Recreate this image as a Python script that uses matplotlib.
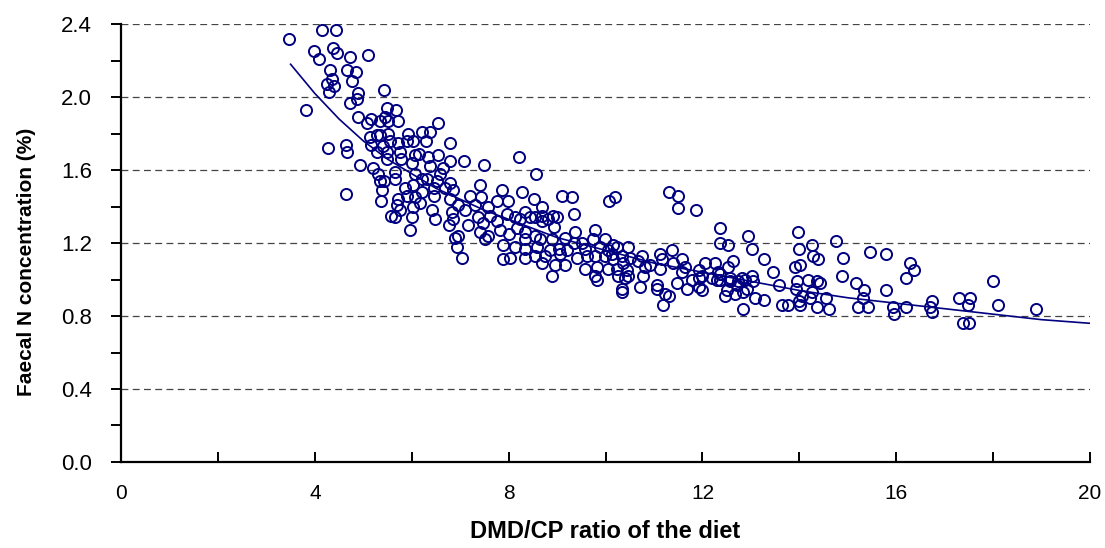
import matplotlib.pyplot as plt
from matplotlib.ticker import MultipleLocator

# scatter data: DMD/CP ratio vs faecal N (%)
dmd_cp = [
    3.47, 4.14, 4.43, 3.98, 4.38, 4.46, 4.09, 4.73, 5.09, 4.31, 4.67, 4.84, 4.35, 4.76, 4.26, 4.40,
    4.30, 5.42, 4.89, 4.88, 4.73, 3.81, 5.50, 5.68, 4.89, 5.07, 5.16, 5.35, 5.45, 5.52, 5.72,
    5.14, 5.28, 5.35, 5.52, 4.27, 4.64, 4.67, 5.16, 5.55, 5.41, 5.28, 5.50, 5.72, 5.76, 5.50, 5.78,
    4.93, 5.21, 5.30, 5.66, 5.35, 5.43, 5.66, 4.64, 5.38, 5.37, 5.72, 5.69, 5.76, 5.57, 5.66,
    6.54, 5.93, 6.21, 6.38, 5.91, 6.02, 6.30, 6.79, 6.14, 6.07, 6.34, 6.54, 6.79, 7.07, 7.49, 6.00,
    6.38, 6.64, 6.07, 6.58,
    6.21, 6.31, 6.79, 6.52, 5.86, 6.03, 6.21, 6.45, 6.69, 6.86, 7.40, 7.86, 5.90, 6.07, 6.45, 6.79,
    7.20, 7.44, 6.03, 6.17, 6.41, 6.83, 6.96, 7.10, 7.31, 7.58, 7.75, 6.00, 6.48, 6.76, 6.86, 7.17,
    7.37, 7.48, 7.62, 7.75, 5.96, 7.41, 7.58, 7.82, 6.96, 6.89, 7.51, 6.94, 7.89, 7.03, 7.89,
    8.22, 8.56, 8.27, 7.99, 8.52, 9.10, 9.30, 10.08, 10.20, 8.68, 9.34, 7.96, 8.13, 8.34, 8.54, 8.68,
    8.92, 8.99, 8.82,
    8.24, 8.44, 8.68, 8.94, 8.17, 8.00, 8.34, 8.54, 9.37, 9.78, 8.13, 8.34, 8.65, 8.89, 9.16, 9.34,
    9.51, 9.75, 9.99, 10.16, 8.34, 8.58, 8.85, 9.03, 9.20, 9.58, 9.89, 10.06, 8.03, 8.34, 8.54, 8.75,
    9.06, 9.41, 9.61, 9.78, 9.99, 8.68, 8.96, 9.16, 9.58, 9.82, 10.06, 9.78, 8.89, 9.82,
    11.32, 11.50, 11.49, 11.87, 11.37,
    10.23, 10.47, 10.13, 10.33, 10.51, 10.75, 11.12, 11.57, 10.16, 10.37, 10.68, 10.82, 10.92, 11.12,
    11.16, 11.40, 11.64, 11.92, 12.05, 12.26, 10.23, 10.44, 10.47, 10.40, 10.26, 11.57, 10.78, 11.78,
    11.92, 11.99, 12.19, 12.30, 12.33, 11.47, 10.33, 10.33, 10.71, 11.06, 11.68, 11.92, 11.99, 11.06,
    11.23, 11.30, 11.19,
    12.36, 12.95, 13.97, 12.53, 12.36, 13.02, 14.26, 14.75, 14.00, 15.45, 14.29, 14.38, 13.26, 14.91,
    12.64, 12.53, 13.91, 14.01, 13.46, 14.88, 12.36, 12.57, 12.81, 13.02, 13.05, 12.36, 12.57, 12.74,
    12.88, 13.96, 14.17, 14.36, 14.43, 13.57, 15.16, 12.71, 12.91, 13.93, 12.50, 12.67, 12.84, 14.26,
    15.34, 12.47, 13.09, 13.26, 14.05, 14.21, 14.55, 15.32, 14.00, 14.01, 13.64, 13.77, 14.37, 14.62,
    12.84, 15.21, 15.42,
    15.78, 16.29, 16.37, 16.20, 18.00, 15.78, 15.94, 15.96, 16.20, 16.73, 16.70, 16.73, 17.30, 17.52,
    17.48, 18.09, 17.37, 17.51, 18.89,
]
faecal_n = [
    2.32, 2.37, 2.37, 2.25, 2.27, 2.24, 2.21, 2.22, 2.23, 2.15, 2.15, 2.14, 2.10, 2.09, 2.07, 2.06,
    2.03, 2.04, 2.02, 1.99, 1.97, 1.93, 1.94, 1.93, 1.89, 1.86, 1.88, 1.87, 1.89, 1.87, 1.87,
    1.78, 1.79, 1.79, 1.80, 1.72, 1.74, 1.70, 1.74, 1.76, 1.73, 1.70, 1.70, 1.75, 1.70, 1.66, 1.66,
    1.63, 1.61, 1.58, 1.59, 1.54, 1.54, 1.55, 1.47, 1.49, 1.43, 1.44, 1.41, 1.38, 1.35, 1.34,
    1.86, 1.80, 1.81, 1.81, 1.76, 1.76, 1.76, 1.75, 1.69, 1.68, 1.67, 1.68, 1.65, 1.65, 1.63, 1.64,
    1.62, 1.61, 1.58, 1.58,
    1.55, 1.55, 1.53, 1.54, 1.50, 1.52, 1.48, 1.50, 1.50, 1.49, 1.52, 1.49, 1.46, 1.45, 1.46, 1.44,
    1.46, 1.45, 1.40, 1.42, 1.38, 1.37, 1.41, 1.38, 1.41, 1.40, 1.43, 1.34, 1.33, 1.30, 1.33, 1.30,
    1.34, 1.31, 1.35, 1.32, 1.27, 1.26, 1.24, 1.27, 1.24, 1.23, 1.22, 1.18, 1.19, 1.12, 1.11,
    1.67, 1.58, 1.48, 1.43, 1.44, 1.46, 1.45, 1.43, 1.45, 1.40, 1.36, 1.36, 1.34, 1.37, 1.34, 1.35,
    1.35, 1.34, 1.33,
    1.33, 1.34, 1.32, 1.29, 1.28, 1.25, 1.26, 1.24, 1.26, 1.27, 1.18, 1.22, 1.22, 1.22, 1.23, 1.20,
    1.20, 1.22, 1.22, 1.19, 1.17, 1.18, 1.16, 1.17, 1.16, 1.17, 1.18, 1.16, 1.12, 1.12, 1.13, 1.13,
    1.14, 1.12, 1.13, 1.13, 1.13, 1.09, 1.08, 1.08, 1.06, 1.07, 1.06, 1.02, 1.02, 1.00,
    1.48, 1.46, 1.39, 1.38, 1.16,
    1.18, 1.18, 1.14, 1.13, 1.12, 1.13, 1.14, 1.11, 1.11, 1.09, 1.10, 1.07, 1.08, 1.06,
    1.11, 1.09, 1.07, 1.05, 1.09, 1.09, 1.06, 1.05, 1.02, 1.01, 1.02, 1.04, 1.02, 1.00,
    1.01, 1.02, 1.01, 1.00, 1.04, 0.98, 0.95, 0.93, 0.96, 0.95, 0.95, 0.96, 0.94, 0.97,
    0.92, 0.91, 0.86,
    1.28, 1.24, 1.26, 1.19, 1.20, 1.17, 1.19, 1.21, 1.17, 1.15, 1.13, 1.11, 1.11, 1.12,
    1.10, 1.07, 1.07, 1.08, 1.04, 1.02, 1.03, 1.01, 1.01, 1.02, 0.99, 1.00, 0.99, 0.99,
    1.00, 0.99, 1.00, 0.99, 0.98, 0.97, 0.98, 0.97, 0.95, 0.95, 0.94, 0.92, 0.93, 0.93,
    0.94, 0.91, 0.90, 0.89, 0.91, 0.90, 0.90, 0.90, 0.88, 0.86, 0.86, 0.86, 0.85, 0.84,
    0.84, 0.85, 0.85,
    1.14, 1.09, 1.05, 1.01, 0.99, 0.94, 0.85, 0.81, 0.85, 0.88, 0.85, 0.82, 0.90, 0.90,
    0.86, 0.86, 0.76, 0.76, 0.84,
]

# fitted curve as drawn in the chart
fit_x = [3.5, 4, 4.5, 5, 5.5, 6, 6.5, 7, 7.5, 8, 9, 10, 11, 12, 13, 14, 15, 16, 17, 18, 19, 20]
fit_y = [2.18, 2.02, 1.88, 1.76, 1.66, 1.58, 1.50, 1.44, 1.38, 1.33, 1.23, 1.16, 1.09, 1.04,
         0.99, 0.94, 0.90, 0.87, 0.84, 0.81, 0.78, 0.76]

navy = "#000080"

fig = plt.figure(figsize=(11.05, 5.48), dpi=100)
ax = fig.add_axes([0.1095, 0.157, 0.877, 0.799])

ax.plot(dmd_cp, faecal_n, linestyle="none", marker="o", markersize=8,
        markerfacecolor="none", markeredgecolor=navy, markeredgewidth=1.4, zorder=3)
ax.plot(fit_x, fit_y, color=navy, linewidth=1.2, zorder=4)

ax.set_xlim(0, 20)
ax.set_ylim(0, 2.4)
ax.xaxis.set_major_locator(MultipleLocator(4))
ax.xaxis.set_minor_locator(MultipleLocator(2))
ax.yaxis.set_major_locator(MultipleLocator(0.4))
ax.yaxis.set_minor_locator(MultipleLocator(0.2))
ax.set_yticklabels([f"{v:.1f}" for v in ax.get_yticks()])

ax.grid(True, axis="y", which="major", color="#444444", linestyle=(0, (5.5, 3.5)), linewidth=0.9)
ax.set_axisbelow(True)

for side in ["top", "right"]:
    ax.spines[side].set_visible(False)
for side in ["left", "bottom"]:
    ax.spines[side].set_linewidth(1.6)

ax.tick_params(axis="x", which="both", direction="in", length=7, width=1.4, pad=16,
               labelsize=15)
ax.tick_params(axis="y", which="both", direction="out", length=7, width=1.4, pad=14,
               labelsize=16)
for lbl in ax.get_xticklabels() + ax.get_yticklabels():
    lbl.set_family("Liberation Sans")

ax.set_xlabel("DMD/CP ratio of the diet", fontsize=17, fontweight="bold",
              family="Liberation Sans", labelpad=12)
ax.set_ylabel("Faecal N concentration (%)", fontsize=15, fontweight="bold",
              family="Liberation Sans", labelpad=12)
ax.yaxis.set_label_coords(-0.088, 0.457)

fig.savefig("out.png", dpi=100)
